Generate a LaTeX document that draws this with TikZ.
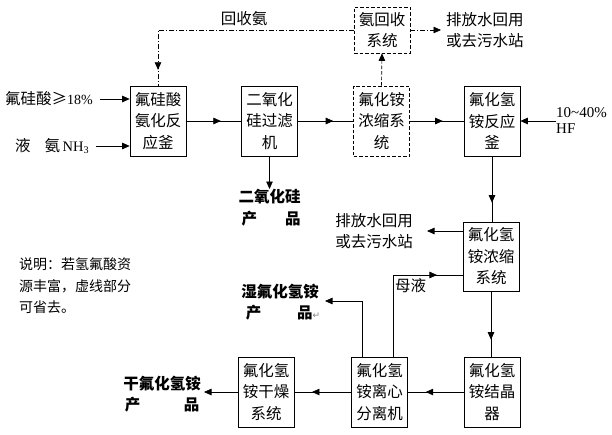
\documentclass[tikz,border=0pt]{standalone}
\usepackage{fontspec}
\setmainfont{Liberation Serif}
\newfontfamily\cjk{Noto Sans CJK SC}
\newfontfamily\symfont{DejaVu Sans}
\usetikzlibrary{arrows.meta,decorations.markings}
\tikzset{
  tip/.tip={Triangle[length=7.5pt,width=6.5pt]},
  conn/.style={line width=0.7pt},
  box/.style={draw, line width=0.7pt, minimum width=56pt, minimum height=70pt, align=center, inner sep=0pt, font=\cjk\fontsize{15.5}{21.5}\selectfont},
  dbox/.style={box, dash pattern=on 3.5pt off 2pt},
  lbl/.style={inner sep=0pt, align=left, font=\cjk\fontsize{15.5}{20.5}\selectfont},
  prodlbl/.style={inner sep=0pt, align=left, font=\cjk\bfseries\fontsize{15.5}{21.5}\selectfont},
  endarrow/.style={conn, -tip},
  midarrow/.style={conn, decoration={markings, mark=at position #1 with {\arrow{tip}}}, postaction={decorate}},
  dashdot/.style={dash pattern=on 5pt off 2pt on 1pt off 2pt},
}
\begin{document}
\begin{tikzpicture}[x=1pt,y=-1pt]
\useasboundingbox (0,0) rectangle (612,434);

% boxes
\node[box] (b1) at (158,121) {氟硅酸\\氨化反\\应釜};
\node[box] (b2) at (269.5,121) {二氧化\\硅过滤\\机};
\node[dbox] (b3) at (381.5,121) {氟化铵\\浓缩系\\统};
\node[box] (b4) at (492,121) {氟化氢\\铵反应\\釜};
\node[dbox, minimum height=46pt] (rec) at (382,30) {氨回收\\系统};
\node[box, minimum height=69pt] (b5) at (491,256.5) {氟化氢\\铵浓缩\\系统};
\node[box] (b6) at (492,392) {氟化氢\\铵结晶\\器};
\node[box] (b7) at (379.5,392) {氟化氢\\铵离心\\分离机};
\node[box] (b8) at (266,392) {氟化氢\\铵干燥\\系统};

% input labels
\node[lbl, anchor=west] (in1) at (5,99) {氟硅酸≥{\rmfamily\fontsize{14}{14}\selectfont 18\%}};
\node[lbl, anchor=west] (in2) at (15,146) {液\hspace{0.9em}氨\,{\rmfamily\fontsize{14.5}{14}\selectfont NH\textsubscript{3}}};
\draw[endarrow] ([xshift=7pt]in1.east) -- (in1.east -| b1.west);
\draw[endarrow] ([xshift=7pt]in2.east) -- (in2.east -| b1.west);

\node[lbl, anchor=west, font=\rmfamily\fontsize{15}{16}\selectfont] (hf) at (556,121) {10\textasciitilde40\%\\HF};
\draw[endarrow] (hf.west) -- (hf.west -| b4.east);

% recovery loop (dashed)
\node[lbl] (rl) at (244,19) {回收氨};
\draw[conn, dashdot, midarrow=0.937] (rec.west) -| (b1.north);
\draw[endarrow, dash pattern=on 3.5pt off 2pt] (b3.north) -- (rec.south);
\node[lbl, anchor=west] (w1) at (446,30) {排放水回用\\或去污水站};
\draw[endarrow, dashdot, shorten >=5pt] (rec.east) -- (w1.west);

% main flow
\draw[midarrow=0.63] (b1.east) -- (b2.west);
\draw[midarrow=0.64] (b2.east) -- (b3.west);
\draw[midarrow=0.61] (b3.east) -- (b4.west);
\draw[midarrow=0.71] (b4.south) -- (b4.south |- b5.north);
\draw[midarrow=0.74] (b5.south) -- (b5.south |- b6.north);
\draw[midarrow=0.68] (b6.west) -- (b7.east);
\draw[midarrow=0.69] (b7.west) -- (b8.east);

% SiO2 product
\node[prodlbl, anchor=north] (si) at (269.5,189) {二氧化硅\\\hspace*{0.2em}产\hspace{1.8em}品};
\draw[endarrow] (b2.south) -- (si.north);

% waste water from b5
\node[lbl, anchor=east] (w2) at (413,231) {排放水回用\\或去污水站};
\draw[endarrow, shorten >=14pt] (w2.east -| b5.west) -- (w2.east);

% mother liquor
\coordinate (mj) at (393,275);
\draw[midarrow=0.83] (b7.north -| mj) |- (mj -| b5.west);
\node[lbl, anchor=north west] (ml) at (395,278) {母液};

% wet product
\coordinate (wj) at (362,301);
\node[prodlbl, anchor=east] (wet) at (319,302) {湿氟化氢铵\\\hspace*{0.3em}产\hspace{2.3em}品\rlap{\symfont\mdseries\color{gray}\fontsize{9}{9}\selectfont ↵}};
\draw[endarrow] (b7.north -| wj) |- ([xshift=6pt]wet.east |- wj);

% dry product
\node[prodlbl, anchor=east] (dry) at (201,394) {干氟化氢铵\\\hspace*{0.1em}产\hspace{2.8em}品};
\draw[endarrow, shorten >=3pt] (b8.west) -- (b8.west -| dry.east);

% note
\node[lbl, anchor=west, font=\cjk\fontsize{14}{21.5}\selectfont] (note) at (19,286) {说明：若氢氟酸资\\源丰富，虚线部分\\可省去。};
\end{tikzpicture}
\end{document}
